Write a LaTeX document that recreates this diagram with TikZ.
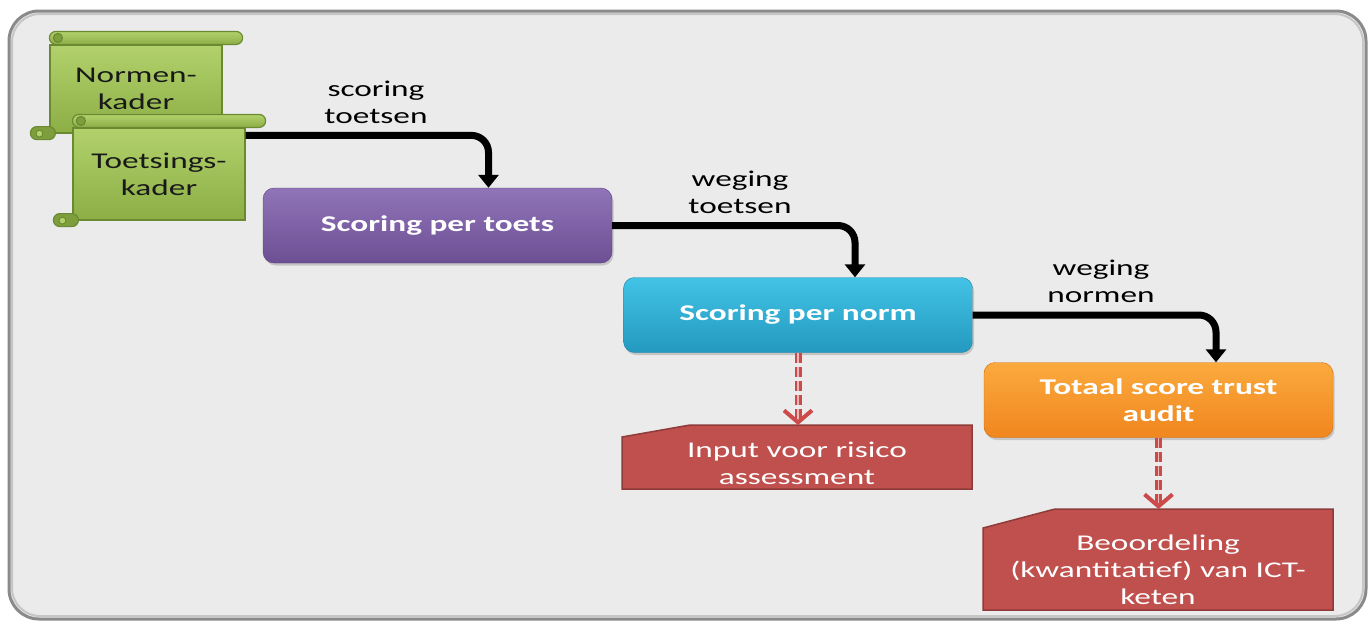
\documentclass[tikz,border=0pt]{standalone}
\usepackage{fontspec}
\setmainfont{Carlito}[FakeStretch=1.48]
\usetikzlibrary{arrows.meta,calc,shadows}

\definecolor{panel}{HTML}{EBEBEB}
\definecolor{panelrim}{HTML}{8A8A8A}
\definecolor{grtop}{HTML}{B2D16C}
\definecolor{grbot}{HTML}{8CAE45}
\definecolor{grrim}{HTML}{6A8A32}
\definecolor{grdark}{HTML}{7E9E3E}
\definecolor{pptop}{HTML}{9074B8}
\definecolor{ppbot}{HTML}{6D4F94}
\definecolor{bltop}{HTML}{42C3E6}
\definecolor{blbot}{HTML}{2499C0}
\definecolor{ortop}{HTML}{FBAA3E}
\definecolor{orbot}{HTML}{F0861E}
\definecolor{rdfill}{HTML}{C0504D}
\definecolor{rdrim}{HTML}{8E3B39}
\definecolor{rdline}{HTML}{CC4A4A}
\definecolor{rdlight}{HTML}{EBB8B8}

\tikzset{
  txt/.style={font=\fontsize{22.5}{27}\selectfont, align=center},
  scrollbody/.style={rectangle, draw=grrim, line width=1.2pt, top color=grtop, bottom color=grbot,
    txt, text=black!90, inner sep=0pt},
  scrollpart/.style={draw=grrim, line width=1.2pt, top color=grtop, bottom color=grbot},
  curl/.style={draw=grrim, line width=1.2pt, fill=grdark},
  stepbox/.style={rectangle, rounded corners=11pt, minimum width=349pt, minimum height=75pt,
    inner sep=0pt, txt, font=\fontsize{22.5}{27}\selectfont\bfseries, text=white,
    drop shadow={shadow xshift=1.5pt, shadow yshift=-2.5pt, opacity=0.35}},
  purplebox/.style={stepbox, draw=ppbot!85!black, top color=pptop, bottom color=ppbot},
  bluebox/.style={stepbox, draw=blbot!85!black, top color=bltop, bottom color=blbot},
  orangebox/.style={stepbox, draw=orbot!85!black, top color=ortop, bottom color=orbot},
  outbox/.style={txt, text=white, inner sep=0pt},
  flow/.style={draw=black, line width=7pt, rounded corners=17pt,
    -{Triangle[length=13pt, width=20pt]}},
  redflow/.style={draw=rdline, line width=7pt, dash pattern=on 10pt off 4pt,
    -{Straight Barb[length=12pt, width=28pt, line width=4pt]},
    postaction={draw=rdlight, line width=1.6pt, dash pattern=on 10pt off 4pt, -, shorten >=6pt}},
  lbl/.style={txt, text=black}
}

% green scroll decoration around a body node
\newcommand\scrolldeco[1]{%
  \draw[scrollpart, rounded corners=6.5pt] ($(#1.north west)+(0,-13)$) rectangle ($(#1.north east)+(20,0)$);
  \draw[curl] ($(#1.north west)+(8.5,-6.5)$) circle (4.5pt);
  \draw[curl, rounded corners=6.5pt] ($(#1.south west)+(-19,-7)$) rectangle ($(#1.south west)+(6,6)$);
  \draw[draw=grrim, line width=1pt, fill=grtop] ($(#1.south west)+(-10,0)$) circle (3.5pt);
}

\begin{document}
\begin{tikzpicture}[x=1pt, y=-1pt]
\useasboundingbox (0,0) rectangle (1371,622);

% panel behind the whole flow
\fill[white] (0,0) rectangle (1371,622);
\draw[draw=panelrim, line width=3pt, fill=panel, rounded corners=30pt] (9,11) rectangle (1366,619);
\draw[draw=gray!45, line width=2pt, rounded corners=28pt] (12,14) rectangle (1363,616);

% frameworks (scrolls)
\node[scrollbody, minimum width=172pt, minimum height=88pt] (nk) at (136,89) {Normen-\\kader};
\scrolldeco{nk}
\node[scrollbody, minimum width=172pt, minimum height=92pt] (tk) at (159,174) {Toetsings-\\kader};
\scrolldeco{tk}

% process steps
\node[purplebox] (sp) at (437.5,225.5) {Scoring per toets};
\node[bluebox] (sn) at (798,315) {Scoring per norm};
\node[orangebox] (ts) at (1158.5,400) {Totaal score trust\\audit};

% outputs with a clipped top-left corner
\fill[rdfill] (622,437) -- (690,425) -- (972,425) -- (972,489) -- (622,489) -- cycle;
\draw[rdrim, line width=1.5pt] (622,437) -- (690,425) -- (972,425) -- (972,489) -- (622,489) -- cycle;
\node[outbox, minimum width=350pt, minimum height=64pt] (inp) at (797,463) {Input voor risico\\assessment};

\fill[rdfill] (983,528) -- (1055,509) -- (1333,509) -- (1333,610) -- (983,610) -- cycle;
\draw[rdrim, line width=1.5pt] (983,528) -- (1055,509) -- (1333,509) -- (1333,610) -- (983,610) -- cycle;
\node[outbox, minimum width=350pt, minimum height=101pt] (beo) at (1158,570) {Beoordeling\\(kwantitatief) van ICT-\\keten};

% flow arrows
\draw[flow] ($(tk.north east)+(0,8)$) -| ($(sp.north)+(51,0)$);
\draw[flow] (sp.east) -| ($(sn.north)+(57,0)$);
\draw[flow] (sn.east) -| ($(ts.north)+(57.5,0)$);

\draw[redflow] (sn.south) -- (sn.south |- 0,425);
\draw[redflow] (ts.south) -- (ts.south |- 0,509);

% arrow labels
\node[lbl] (l1) at (376,102) {scoring\\toetsen};
\node[lbl] (l2) at (740,192) {weging\\toetsen};
\node[lbl] (l3) at (1101,281) {weging\\normen};
\end{tikzpicture}
\end{document}
